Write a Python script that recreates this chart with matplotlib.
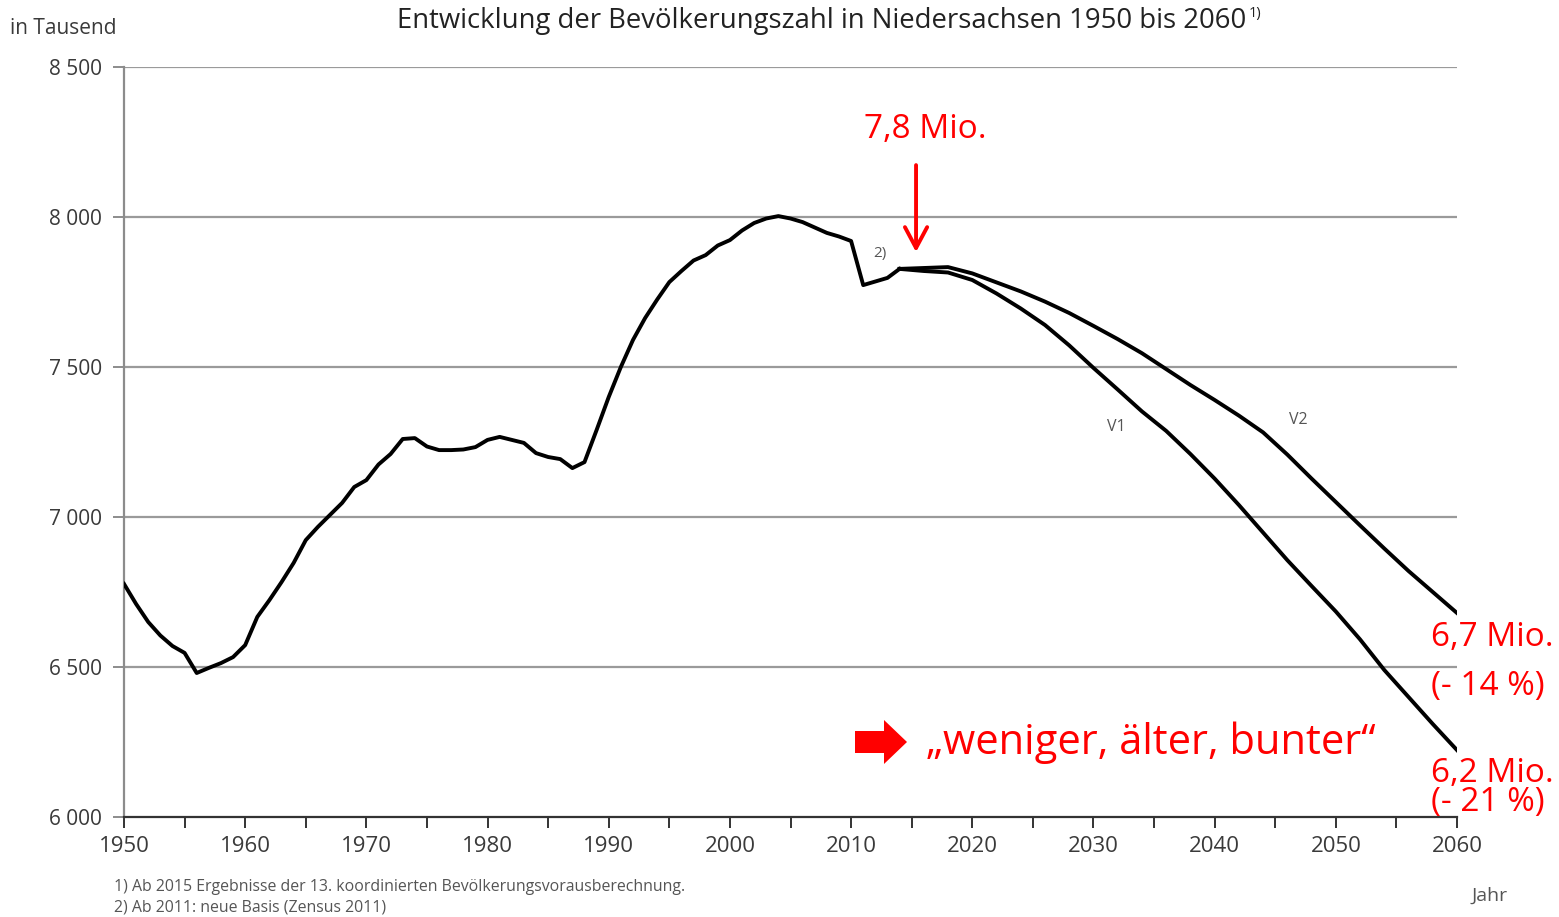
import matplotlib
matplotlib.use("Agg")
import matplotlib.pyplot as plt
from matplotlib.patches import Polygon

# ---------------- data (thousands) ----------------
hist_years = list(range(1950, 2015))
hist_values = [6777, 6710, 6650, 6605, 6570, 6547, 6480, 6497, 6513, 6533,
               6573, 6667, 6723, 6783, 6847, 6923, 6967, 7007, 7047, 7100,
               7123, 7175, 7210, 7260, 7263, 7235, 7223, 7223, 7225, 7233,
               7257, 7267, 7257, 7247, 7213, 7200, 7193, 7163, 7183, 7290,
               7400, 7500, 7590, 7663, 7725, 7783, 7820, 7855, 7873, 7905,
               7923, 7955, 7980, 7995, 8003, 7995, 7983, 7965, 7947, 7935,
               7920, 7773, 7785, 7797, 7827]

proj_years = list(range(2014, 2061, 2))
v1_values = [7827, 7820, 7815, 7790, 7745, 7695, 7640, 7572, 7497, 7425,
             7352, 7287, 7210, 7128, 7040, 6948, 6856, 6770, 6685, 6592,
             6490, 6400, 6310, 6223]
v2_values = [7827, 7830, 7833, 7812, 7782, 7752, 7718, 7680, 7637, 7593,
             7546, 7493, 7440, 7390, 7338, 7282, 7208, 7128, 7050, 6972,
             6895, 6820, 6750, 6680]

y_ticks = [6000, 6500, 7000, 7500, 8000, 8500]
y_labels = ["6 000", "6 500", "7 000", "7 500", "8 000", "8 500"]
x_major = list(range(1950, 2061, 10))
x_minor = list(range(1955, 2060, 10))

title = "Entwicklung der Bevölkerungszahl in Niedersachsen 1950 bis 2060"
footnote1 = "1) Ab 2015 Ergebnisse der 13. koordinierten Bevölkerungsvorausberechnung."
footnote2 = "2) Ab 2011: neue Basis (Zensus 2011)"

# ---------------- figure ----------------
W, H = 1559, 917
fig = plt.figure(figsize=(W / 100, H / 100), dpi=100)
ax = fig.add_axes([124 / W, 1 - 817 / H, (1457 - 124) / W, (817 - 67) / H])

grey = "#8c8c8c"
txt = "#3a3a3a"
font = "Open Sans"
red = "#ff0000"

for v in y_ticks[1:]:
    ax.axhline(v, color="#9a9a9a", lw=1.6, zorder=1)

ax.plot(hist_years, hist_values, color="black", lw=2.8, zorder=3, solid_joinstyle="round")
ax.plot(proj_years, v1_values, color="black", lw=2.8, zorder=3, solid_joinstyle="round")
ax.plot(proj_years, v2_values, color="black", lw=2.8, zorder=3, solid_joinstyle="round")

ax.set_xlim(1950, 2060)
ax.set_ylim(6000, 8500)
for s in ["top", "right"]:
    ax.spines[s].set_visible(False)
ax.spines["left"].set_color(grey)
ax.spines["left"].set_linewidth(1.6)
ax.spines["bottom"].set_color("#333333")
ax.spines["bottom"].set_linewidth(1.6)

ax.set_yticks(y_ticks)
ax.set_yticklabels(y_labels, family=font, fontsize=15, color=txt)
ax.set_xticks(x_major)
ax.set_xticklabels([str(x) for x in x_major], family=font, fontsize=16, color=txt)
ax.set_xticks(x_minor, minor=True)
ax.tick_params(axis="y", length=8, width=1.4, color=grey, pad=8)
ax.tick_params(axis="x", which="both", direction="out", length=8, width=1.4,
               color="#333333", pad=6)

# texts
t = fig.text(822 / W, 1 - 21 / H, title, family=font, fontsize=19.8, color="#222222",
             ha="center", va="center")
fig.canvas.draw()
bb = t.get_window_extent()
fig.text((bb.x1 + 2) / W, 1 - 14 / H, "1)", family=font, fontsize=10.5, color="#222222",
         ha="left", va="center")
fig.text(10 / W, 1 - 29 / H, "in Tausend", family=font, fontsize=15, color=txt,
         ha="left", va="center")
fig.text(1490 / W, 1 - 896 / H, "Jahr", family=font, fontsize=14, color="#555555",
         ha="center", va="center")
fig.text(114 / W, 1 - 887 / H, footnote1, family=font, fontsize=11.4, color="#555555",
         ha="left", va="center")
fig.text(114 / W, 1 - 907 / H, footnote2, family=font, fontsize=11.4, color="#555555",
         ha="left", va="center")

ax.text(2012.4, 7877, "2)", family=font, fontsize=11, color="#555555", ha="center", va="center")
ax.text(2031.9, 7300, "V1", family=font, fontsize=11.5, color="#555555", ha="center", va="center")
ax.text(2046.9, 7323, "V2", family=font, fontsize=11.5, color="#555555", ha="center", va="center")

# red annotations
ax.text(2016.1, 8290, "7,8 Mio.", family=font, fontsize=24, color=red, ha="center", va="center")
ax.annotate("", xy=(2015.36, 7883), xytext=(2015.36, 8173),
            arrowprops=dict(arrowstyle="->,head_length=0.75,head_width=0.4",
                            mutation_scale=20, color=red, lw=2.8,
                            shrinkA=0, shrinkB=0))

fig.text(1492 / W, 1 - 638 / H, "6,7 Mio.", family=font, fontsize=24, color=red,
         ha="center", va="center")
fig.text(1488 / W, 1 - 686 / H, "(- 14 %)", family=font, fontsize=24, color=red,
         ha="center", va="center")
fig.text(1492 / W, 1 - 773 / H, "6,2 Mio.", family=font, fontsize=24, color=red,
         ha="center", va="center")
fig.text(1488 / W, 1 - 803 / H, "(- 21 %)", family=font, fontsize=24, color=red,
         ha="center", va="center")
fig.text(1151 / W, 1 - 743 / H, "\u201eweniger, älter, bunter\u201c", family=font,
         fontsize=30, color=red, ha="center", va="center")

arrow_px = [(855, 731), (884, 731), (884, 720), (907, 742), (884, 764), (884, 753), (855, 753)]
fig.patches.append(Polygon([(x / W, 1 - y / H) for x, y in arrow_px], closed=True,
                           transform=fig.transFigure, facecolor=red, edgecolor="none"))

fig.savefig("out.png", dpi=100, facecolor="white")
